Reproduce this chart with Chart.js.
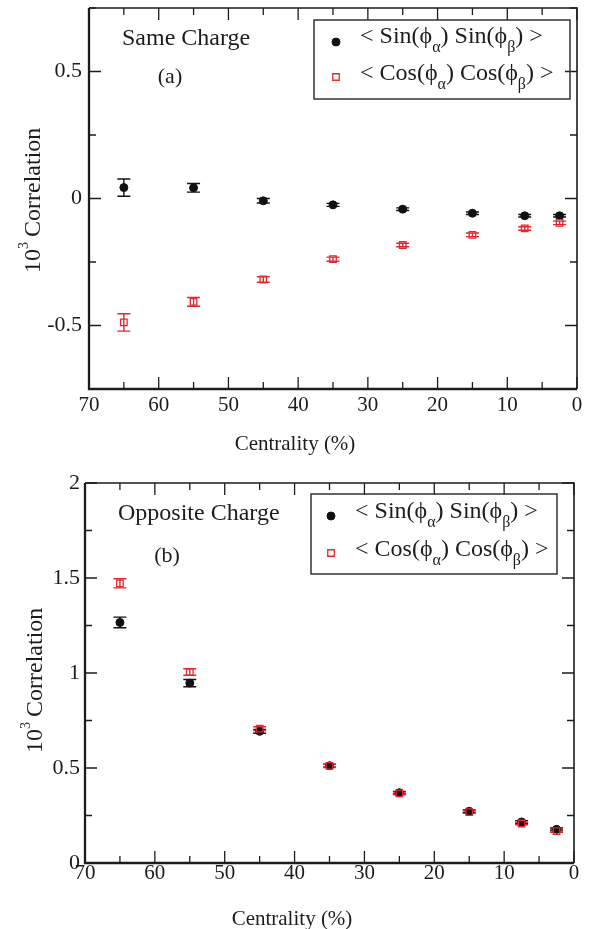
<!DOCTYPE html>
<html>
<head>
<meta charset="utf-8">
<script src="https://cdn.jsdelivr.net/npm/chart.js@4.4.0/dist/chart.umd.min.js"></script>
<style>
  html, body { margin: 0; padding: 0; background: #fff; overflow: hidden; }
  #wrap { position: relative; width: 591px; height: 929px; }
  .panel { position: absolute; left: 0; width: 591px; }
</style>
</head>
<body>
<div id="wrap">
  <div class="panel" style="top:0;height:465px"><canvas id="chartA" width="591" height="465"></canvas></div>
  <div class="panel" style="top:465px;height:464px"><canvas id="chartB" width="591" height="464"></canvas></div>
</div>
<script>
// centrality bins (%)
const centrality = [65, 55, 45, 35, 25, 15, 7.5, 2.5];

// (a) same charge
const sameSin    = [0.043, 0.042, -0.009, -0.025, -0.042, -0.058, -0.068, -0.068];
const sameSinErr = [0.034, 0.017, 0.009, 0.006, 0.005, 0.005, 0.005, 0.005];
const sameCos    = [-0.488, -0.407, -0.319, -0.239, -0.183, -0.143, -0.118, -0.096];
const sameCosErr = [0.034, 0.017, 0.011, 0.008, 0.007, 0.007, 0.007, 0.007];

// (b) opposite charge
const oppSin    = [1.266, 0.947, 0.693, 0.512, 0.370, 0.272, 0.216, 0.177];
const oppSinErr = [0.028, 0.019, 0.010, 0.008, 0.007, 0.007, 0.007, 0.007];
const oppCos    = [1.472, 1.005, 0.707, 0.511, 0.366, 0.268, 0.208, 0.168];
const oppCosErr = [0.024, 0.017, 0.010, 0.008, 0.007, 0.007, 0.007, 0.007];

// tick labels
const xTickLabels = [70, 60, 50, 40, 30, 20, 10, 0];
const yTickLabelsA = [0.5, 0, -0.5];
const yTickLabelsB = [0, 0.5, 1, 1.5, 2];

const SERIF = "'Liberation Serif', 'Times New Roman', serif";
const INK = '#1c1c1c';
const RED = '#e8262d';

const sinLegend = [{t: '< Sin(ϕ'}, {t: 'α', sub: true}, {t: ') Sin(ϕ'}, {t: 'β', sub: true}, {t: ') >'}];
const cosLegend = [{t: '< Cos(ϕ'}, {t: 'α', sub: true}, {t: ') Cos(ϕ'}, {t: 'β', sub: true}, {t: ') >'}];

function drawRich(ctx, x, y, parts, size, smallSize, shift) {
  let cx = x;
  for (const p of parts) {
    ctx.font = (p.sub || p.sup ? smallSize : size) + 'px ' + SERIF;
    let yy = y;
    if (p.sub) yy = y + shift;
    if (p.sup) yy = y - shift;
    ctx.fillText(p.t, cx, yy);
    cx += ctx.measureText(p.t).width + (p.gap || 0);
  }
  return cx;
}

// keep the plot box exactly where we put it
function noPad(s) {
  s.paddingTop = 0; s.paddingBottom = 0;
  s.paddingLeft = 0; s.paddingRight = 0;
}

const decor = {
  id: 'decor',
  beforeDatasetsDraw(chart) {
    const o = chart.options.plugins.decor;
    const ctx = chart.ctx;
    const xs = chart.scales.x, ys = chart.scales.y;
    ctx.save();
    ctx.lineWidth = 1.4;
    // error bars
    chart.data.datasets.forEach((ds, i) => {
      const errs = o.errors[i];
      ctx.strokeStyle = ds.borderColor;
      ds.data.forEach((p, j) => {
        const px = xs.getPixelForValue(p.x);
        const y1 = ys.getPixelForValue(p.y - errs[j]);
        const y2 = ys.getPixelForValue(p.y + errs[j]);
        ctx.beginPath();
        ctx.moveTo(px, y1); ctx.lineTo(px, y2);
        ctx.moveTo(px - 6.5, y1); ctx.lineTo(px + 6.5, y1);
        ctx.moveTo(px - 6.5, y2); ctx.lineTo(px + 6.5, y2);
        ctx.stroke();
      });
    });
    ctx.restore();
  },
  afterDraw(chart) {
    const o = chart.options.plugins.decor;
    const ctx = chart.ctx;
    const a = chart.chartArea;
    const xs = chart.scales.x, ys = chart.scales.y;
    ctx.save();
    // inward ticks on all four sides
    ctx.strokeStyle = INK;
    ctx.lineWidth = 1.3;
    ctx.beginPath();
    xs.ticks.forEach(t => {
      const px = xs.getPixelForValue(t.value);
      const len = t.label !== '' ? 12 : 7;
      ctx.moveTo(px, a.bottom); ctx.lineTo(px, a.bottom - len);
      ctx.moveTo(px, a.top); ctx.lineTo(px, a.top + len);
    });
    ys.ticks.forEach(t => {
      const py = ys.getPixelForValue(t.value);
      const len = t.label !== '' ? 12 : 7;
      ctx.moveTo(a.left, py); ctx.lineTo(a.left + len, py);
      ctx.moveTo(a.right, py); ctx.lineTo(a.right - len, py);
    });
    ctx.stroke();
    // frame
    ctx.lineWidth = 1.6;
    ctx.beginPath();
    ctx.moveTo(a.left, a.top); ctx.lineTo(a.right, a.top); ctx.lineTo(a.right, a.bottom);
    ctx.stroke();
    ctx.lineWidth = 2.3;
    ctx.beginPath();
    ctx.moveTo(a.left, a.top); ctx.lineTo(a.left, a.bottom); ctx.lineTo(a.right, a.bottom);
    ctx.stroke();

    ctx.fillStyle = INK;
    ctx.textBaseline = 'alphabetic';
    // panel text
    ctx.textAlign = 'left';
    ctx.font = '24px ' + SERIF;
    ctx.fillText(o.title.text, o.title.x, o.title.y);
    ctx.textAlign = 'center';
    ctx.font = '22px ' + SERIF;
    ctx.fillText(o.tag.text, o.tag.x, o.tag.y);
    // x axis title
    ctx.font = '21px ' + SERIF;
    ctx.fillText('Centrality (%)', o.xTitle.x, o.xTitle.y);
    // y axis title with superscript
    ctx.save();
    ctx.textAlign = 'left';
    ctx.translate(o.yTitle.x, o.yTitle.y);
    ctx.rotate(-Math.PI / 2);
    drawRich(ctx, 0, 0, [{t: '10'}, {t: '3', sup: true, gap: 5}, {t: 'Correlation'}], 24, 14, 12);
    ctx.restore();

    // legend
    const L = o.legend;
    ctx.strokeStyle = '#333';
    ctx.lineWidth = 1.5;
    ctx.strokeRect(L.x1, L.y1, L.x2 - L.x1, L.y2 - L.y1);
    const dsSin = chart.data.datasets[0], dsCos = chart.data.datasets[1];
    ctx.fillStyle = dsSin.backgroundColor;
    ctx.strokeStyle = dsSin.borderColor;
    ctx.lineWidth = 1;
    Chart.helpers.drawPoint(ctx, {pointStyle: 'circle', radius: 4, rotation: 0, borderWidth: 1}, L.symX, L.row1);
    ctx.fillStyle = 'rgba(0,0,0,0)';
    ctx.strokeStyle = dsCos.borderColor;
    ctx.lineWidth = 1.3;
    Chart.helpers.drawPoint(ctx, {pointStyle: 'rect', radius: 4.6, rotation: 0, borderWidth: 1.3}, L.symX, L.row2);
    ctx.fillStyle = INK;
    ctx.textAlign = 'left';
    drawRich(ctx, L.textX, L.base1, sinLegend, 24, 16, 9);
    drawRich(ctx, L.textX, L.base2, cosLegend, 24, 16, 9);
    ctx.restore();
  }
};

function makePanel(id, p) {
  const toPts = ys => centrality.map((x, i) => ({x: x, y: ys[i]}));
  return new Chart(document.getElementById(id), {
    type: 'scatter',
    data: {
      datasets: [
        {
          label: 'sin',
          data: toPts(p.sin),
          pointStyle: 'circle',
          pointRadius: 4,
          backgroundColor: '#111',
          borderColor: '#111',
          borderWidth: 1,
          order: 1
        },
        {
          label: 'cos',
          data: toPts(p.cos),
          pointStyle: 'rect',
          pointRadius: 4.6,
          backgroundColor: 'rgba(0,0,0,0)',
          borderColor: RED,
          borderWidth: 1.3,
          order: 0
        }
      ]
    },
    options: {
      responsive: false,
      animation: false,
      events: [],
      layout: { padding: p.padding },
      plugins: {
        legend: { display: false },
        tooltip: { enabled: false },
        decor: {
          errors: [p.sinErr, p.cosErr],
          title: p.title, tag: p.tag, legend: p.legend,
          xTitle: p.xTitle, yTitle: p.yTitle
        }
      },
      scales: {
        x: {
          type: 'linear',
          reverse: true,
          min: 0, max: 70,
          grid: { display: false, drawTicks: false },
          border: { display: false },
          ticks: {
            stepSize: 5, autoSkip: false, maxRotation: 0,
            padding: p.xTickPad,
            color: INK,
            font: { family: SERIF, size: 21 },
            callback: v => xTickLabels.includes(v) ? String(v) : ''
          },
          afterFit: s => { s.height = p.xAxisHeight; noPad(s); }
        },
        y: {
          type: 'linear',
          min: p.yMin, max: p.yMax,
          grid: { display: false, drawTicks: false },
          border: { display: false },
          ticks: {
            stepSize: 0.25, autoSkip: false,
            padding: p.yTickPad,
            color: INK,
            font: { family: SERIF, size: 22 },
            callback: v => p.yLabels.some(l => Math.abs(l - v) < 1e-9) ? String(v) : ''
          },
          afterFit: s => { s.width = p.yAxisWidth; noPad(s); }
        }
      }
    },
    plugins: [decor]
  });
}

makePanel('chartA', {
  sin: sameSin, sinErr: sameSinErr, cos: sameCos, cosErr: sameCosErr,
  yMin: -0.75, yMax: 0.75, yLabels: yTickLabelsA,
  yAxisWidth: 89, xAxisHeight: 76,
  padding: { top: 8, right: 14, left: 0, bottom: 0 },
  xTickPad: 4, yTickPad: 7,
  title: { text: 'Same Charge', x: 122, y: 45 },
  tag: { text: '(a)', x: 170, y: 83 },
  legend: { x1: 314, y1: 20, x2: 570, y2: 99, symX: 336, row1: 42, row2: 77, textX: 360, base1: 43, base2: 80 },
  xTitle: { x: 295, y: 450 },
  yTitle: { x: 40, y: 273 }
});

makePanel('chartB', {
  sin: oppSin, sinErr: oppSinErr, cos: oppCos, cosErr: oppCosErr,
  yMin: 0, yMax: 2, yLabels: yTickLabelsB,
  yAxisWidth: 85, xAxisHeight: 66,
  padding: { top: 18, right: 17, left: 0, bottom: 0 },
  xTickPad: -2, yTickPad: 5,
  title: { text: 'Opposite Charge', x: 118, y: 55 },
  tag: { text: '(b)', x: 167, y: 97 },
  legend: { x1: 311, y1: 29, x2: 557, y2: 109, symX: 331, row1: 51, row2: 88, textX: 355, base1: 53, base2: 91 },
  xTitle: { x: 292, y: 460 },
  yTitle: { x: 42, y: 288 }
});
</script>
</body>
</html>
